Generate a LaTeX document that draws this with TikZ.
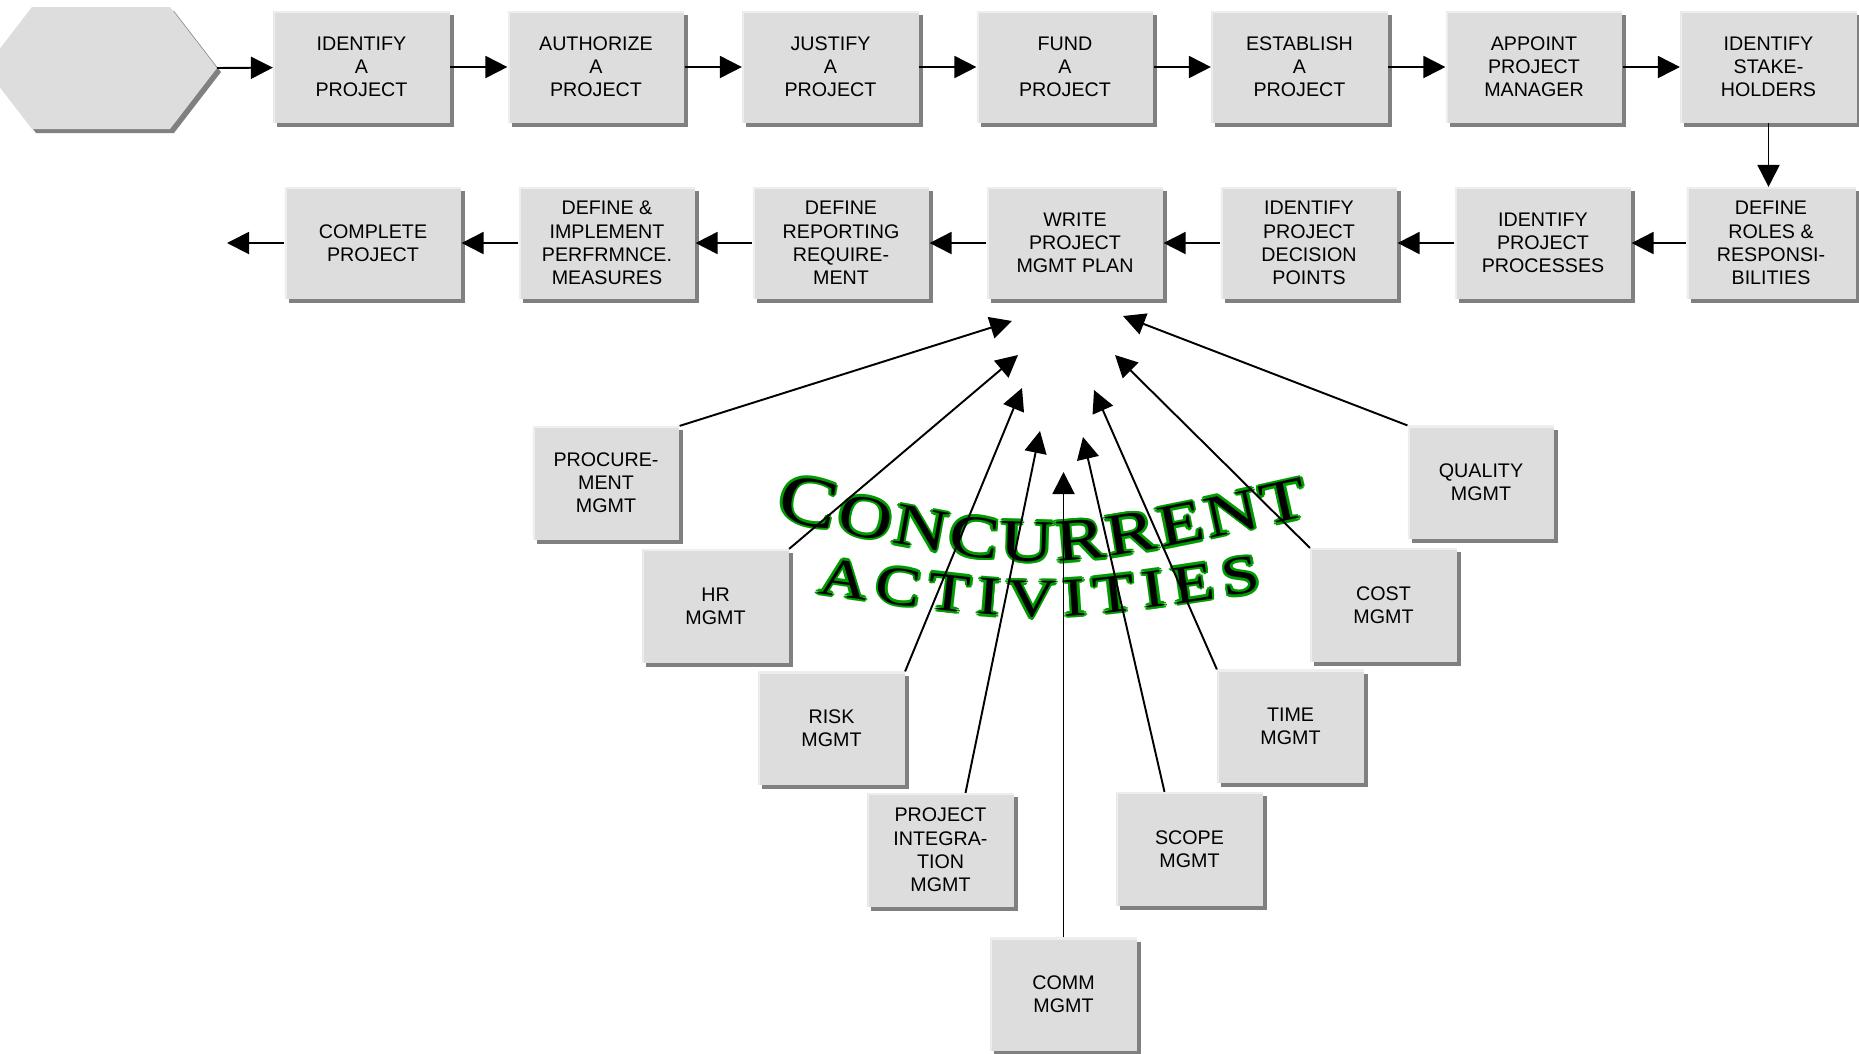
\documentclass[tikz,border=0pt]{standalone}
\usepackage{fontspec}
\setmainfont{Liberation Sans}
\newfontfamily\artfont[FakeStretch=1.25]{Liberation Serif}
\usepackage{tikz}
\usetikzlibrary{arrows.meta,shadows}
\usetikzlibrary{decorations.text}
\definecolor{boxgray}{RGB}{221,221,221}
\definecolor{boxshade}{RGB}{128,128,128}
\definecolor{boxlight}{RGB}{238,238,238}
\definecolor{artgreen}{RGB}{0,155,0}

\begin{document}
\begin{tikzpicture}[
    boxshadow/.style={drop shadow={shadow xshift=0.08cm, shadow yshift=-0.08cm,
      fill=boxshade, opacity=1}},
    stepbox/.style={fill=boxgray, boxshadow, minimum width=3.53cm, minimum height=2.23cm,
      inner sep=0pt, align=center, font=\fontsize{11.2}{13.2}\selectfont,
      path picture={\draw[boxlight, line width=0.08cm] (path picture bounding box.south west)
        -- (path picture bounding box.north west) -- (path picture bounding box.north east);}},
    mgmtbox/.style={stepbox, minimum width=2.93cm, minimum height=2.27cm},
    flow/.style={line width=1.1pt, -{Triangle[length=0.44cm, width=0.44cm]}},
    conctext/.style={decorate, decoration={text along path, text align={fit to path},
      text={|\artfont\fontsize{40}{40}\selectfont\color{#1}|C|\artfont\fontsize{34}{34}\selectfont\color{#1}|ONCURRENT}}},
    acttext/.style={decorate, decoration={text along path, text align={fit to path},
      text={|\artfont\fontsize{31}{31}\selectfont\color{#1}|ACTIVITIES}}}]
    \useasboundingbox (0,0) rectangle (37.18,-21.06);

    \path[fill=boxgray, boxshadow] (-0.3,-1.36) -- (0.64,-0.14) -- (3.4,-0.14)
      -- (4.34,-1.36) -- (3.4,-2.58) -- (0.64,-2.58) -- cycle;
    \coordinate (start) at (4.34,-1.36);

    \foreach \txt [count=\i] in {IDENTIFY\\A\\PROJECT, AUTHORIZE\\A\\PROJECT, JUSTIFY\\A\\PROJECT,
      FUND\\A\\PROJECT, ESTABLISH\\A\\PROJECT, APPOINT\\PROJECT\\MANAGER, IDENTIFY\\STAKE-\\HOLDERS}
      \node[stepbox] (t\i) at ({7.23+4.69*(\i-1)},-1.34) {\txt};
    \foreach \txt [count=\i] in {COMPLETE\\PROJECT, DEFINE \&\\IMPLEMENT\\PERFRMNCE.\\MEASURES,
      DEFINE\\REPORTING\\REQUIRE-\\MENT, WRITE\\PROJECT\\MGMT PLAN,
      IDENTIFY\\PROJECT\\DECISION\\POINTS, IDENTIFY\\PROJECT\\PROCESSES}
      \node[stepbox] (b\i) at ({7.46+4.68*(\i-1)},-4.86) {\txt};
    \node[stepbox, minimum width=3.38cm] (b7) at (35.42,-4.86) {DEFINE\\ROLES \&\\RESPONSI-\\BILITIES};

    \draw[flow] (start) -- (t1);
    \foreach \i [count=\j from 2] in {1,...,6}
      \draw[flow] (t\i) -- (t\j);
    \draw[flow] (t7.south) -- (t7.south |- b7.north);
    \foreach \i [count=\j from 1] in {2,...,7}
      \draw[flow] (b\i) -- (b\j);
    \coordinate (finish) at (4.54,-4.86);
    \draw[flow] (b1) -- (finish);

    \foreach \dx/\dy in {0.05/0, -0.05/0, 0/0.05, 0/-0.05, 0.035/0.035, 0.035/-0.035,
      -0.035/0.035, -0.035/-0.035} {
      \path[conctext=artgreen, shift={(\dx,\dy)}]
        (15.5,-10.36) .. controls (20.84,-11.52) .. (26.2,-10.32);
      \path[acttext=artgreen, shift={(\dx,\dy)}]
        (16.34,-11.86) .. controls (20.8,-12.5) .. (25.24,-11.82);
    }
    \path[conctext=black] (15.5,-10.36) .. controls (20.84,-11.52) .. (26.2,-10.32);
    \path[acttext=black] (16.34,-11.86) .. controls (20.8,-12.5) .. (25.24,-11.82);

    \node[mgmtbox] (proc) at (12.12,-9.66) {PROCURE-\\MENT\\MGMT};
    \node[mgmtbox] (hr) at (14.31,-12.12) {HR\\MGMT};
    \node[mgmtbox] (risk) at (16.63,-14.57) {RISK\\MGMT};
    \node[mgmtbox] (integ) at (18.81,-17.0) {PROJECT\\INTEGRA-\\TION\\MGMT};
    \node[mgmtbox] (comm) at (21.27,-19.89) {COMM\\MGMT};
    \node[mgmtbox] (scope) at (23.79,-16.98) {SCOPE\\MGMT};
    \node[mgmtbox] (time) at (25.81,-14.53) {TIME\\MGMT};
    \node[mgmtbox] (cost) at (27.67,-12.1) {COST\\MGMT};
    \node[mgmtbox] (qual) at (29.62,-9.65) {QUALITY\\MGMT};

    \coordinate (integtop) at ([xshift=0.5cm]integ.north);
    \coordinate (scopetop) at ([xshift=-0.5cm]scope.north);
    \coordinate (p1) at (20.24,-6.42);
    \coordinate (p2) at (20.36,-7.10);
    \coordinate (p3) at (20.44,-7.76);
    \coordinate (p4) at (20.80,-8.62);
    \coordinate (p5) at (21.27,-9.44);
    \coordinate (p6) at (21.66,-8.74);
    \coordinate (p7) at (21.88,-7.80);
    \coordinate (p8) at (22.30,-7.10);
    \coordinate (p9) at (22.46,-6.32);
    \foreach \src/\tip in {proc.north east/p1, hr.north east/p2, risk.north east/p3,
      integtop/p4, comm.north/p5, scopetop/p6, time.north west/p7,
      cost.north west/p8, qual.north west/p9}
      \draw[flow] (\src) -- (\tip);
\end{tikzpicture}
\end{document}
